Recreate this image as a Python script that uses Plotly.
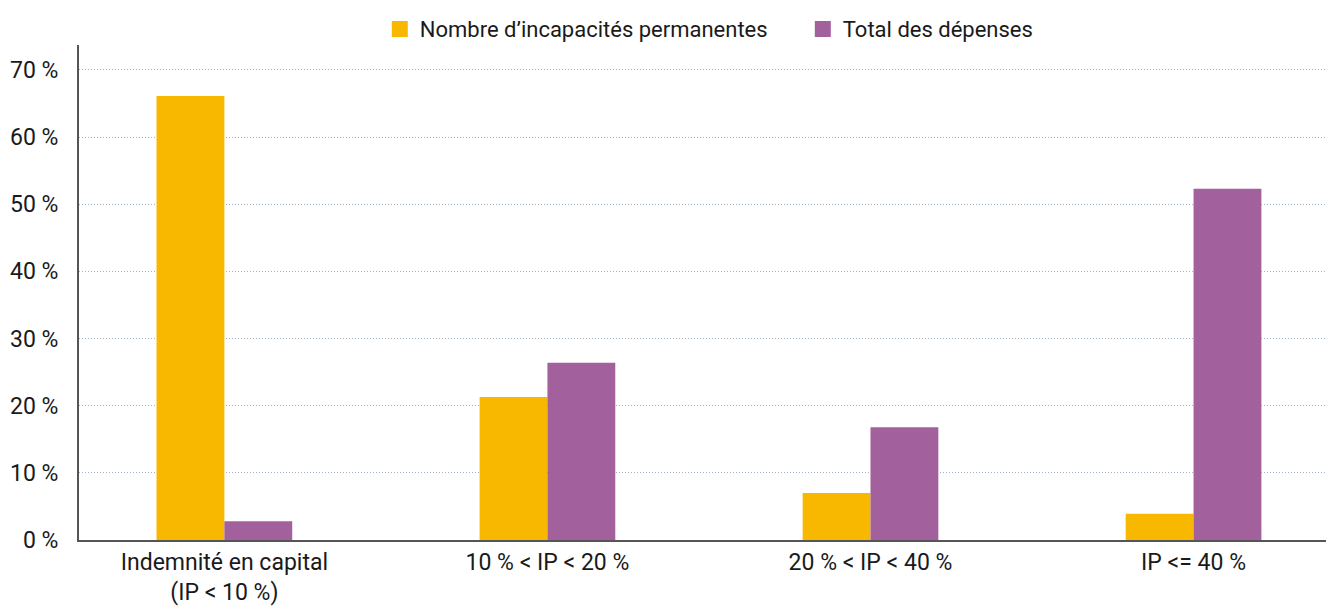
import plotly.graph_objects as go

categories = ["Indemnité en capital<br>(IP < 10 %)", "10 % < IP < 20 %", "20 % < IP < 40 %", "IP <= 40 %"]
nombre_ip = [66.1, 21.3, 7.0, 3.9]
total_depenses = [2.8, 26.4, 16.8, 52.3]
tick_vals = [0, 10, 20, 30, 40, 50, 60, 70]
tick_text = ["0 %", "10 %", "20 %", "30 %", "40 %", "50 %", "60 %", "70 %"]

ORANGE = "#F9B800"
PURPLE = "#A2609C"
FONT = "Roboto, Liberation Sans, sans-serif"

fig = go.Figure(data=[
    go.Bar(name="Nombre d\u2019incapacités permanentes", x=categories, y=nombre_ip,
           marker=dict(color=ORANGE, line_width=0), showlegend=False),
    go.Bar(name="Total des dépenses", x=categories, y=total_depenses,
           marker=dict(color=PURPLE, line_width=0), showlegend=False),
    # legend entries with bigger square swatches
    go.Scatter(name="Nombre d\u2019incapacités permanentes", x=[None], y=[None], mode="markers",
               marker=dict(symbol="square", size=16, color=ORANGE)),
    go.Scatter(name="Total des dépenses", x=[None], y=[None], mode="markers",
               marker=dict(symbol="square", size=16, color=PURPLE)),
])

fig.update_layout(
    width=1328, height=606,
    barmode="group", bargap=0.58, bargroupgap=0,
    plot_bgcolor="white", paper_bgcolor="white",
    margin=dict(l=79, r=2, t=45, b=66, autoexpand=False),
    font=dict(family=FONT, size=23, color="#1a1a1a"),
    legend=dict(orientation="h", xref="container", x=0.286, xanchor="left",
                yref="container", y=0.952, yanchor="middle",
                font=dict(size=22), itemwidth=30, traceorder="normal", entrywidth=378),
)
fig.update_xaxes(
    range=[-0.45, 3.41], showline=True, linecolor="#555555", linewidth=2,
    showgrid=False, ticks="", automargin=False,
)
fig.update_yaxes(
    range=[0, 73.7], tickvals=tick_vals, ticktext=tick_text,
    showline=True, linecolor="#555555", linewidth=2,
    showgrid=True, gridcolor="#9fb3c4", griddash="1px,2px", gridwidth=1,
    zeroline=False, ticks="", ticklabelstandoff=14, automargin=False,
)

# drop the page's default body margin so the chart sits at the window's corner
fig.write_html("out.html", config={"displayModeBar": False},
               post_script="document.body.style.margin='0';")
